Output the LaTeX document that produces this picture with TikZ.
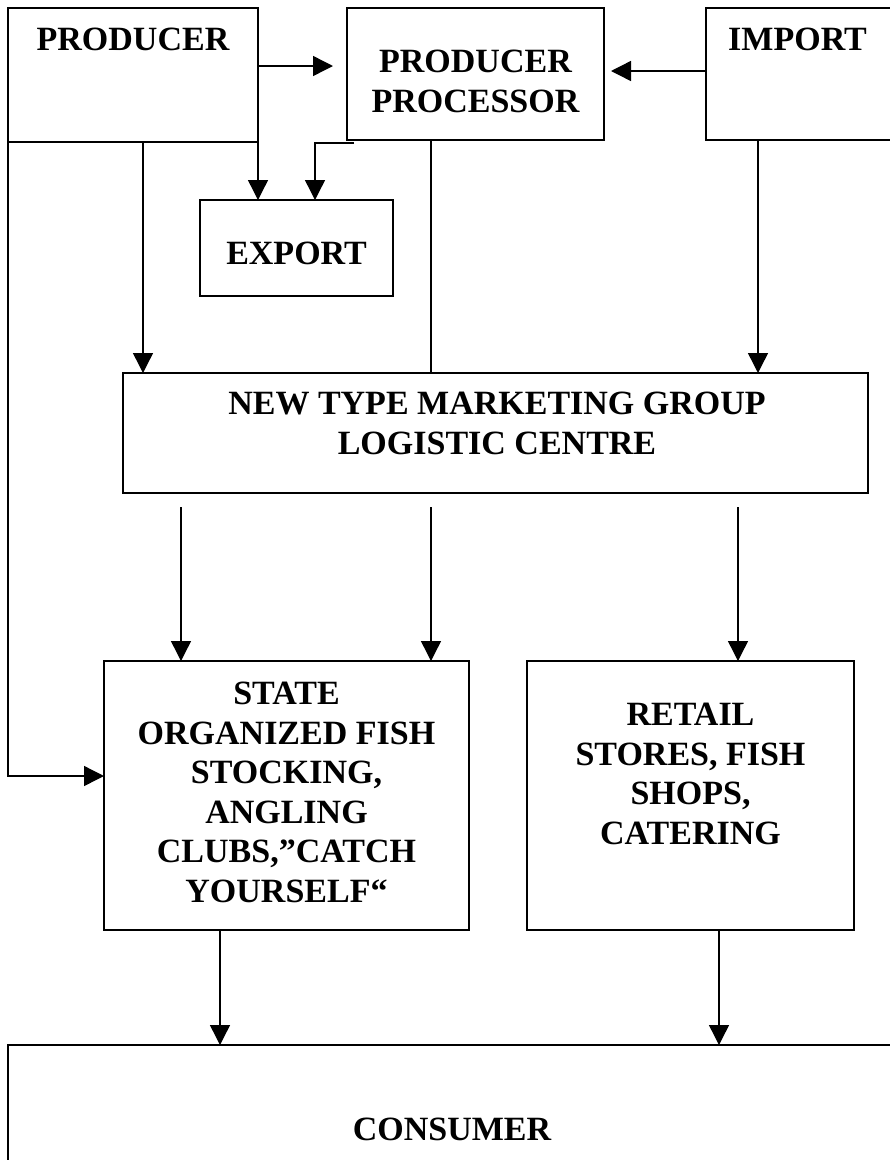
\documentclass[tikz,border=0pt]{standalone}
\usepackage{fontspec}
\setmainfont{Liberation Serif}
\usetikzlibrary{arrows.meta}

\begin{document}
\begin{tikzpicture}[x=1pt,y=-1pt,
  box/.style={draw,line width=1.8pt,inner sep=0pt,outer sep=0pt},
  lbl/.style={font=\bfseries\fontsize{34}{39.5}\selectfont,align=center,inner sep=0pt,anchor=north},
  arr/.style={line width=1.4pt,-{Triangle[length=20pt,width=20pt]}}]
 \useasboundingbox (0,0) rectangle (890,1160);
 \clip (0,0) rectangle (890,1160);
 % boxes
 \node[box,minimum width=250pt,minimum height=134pt] (producer) at (133,75) {};
 \node[box,minimum width=257pt,minimum height=132pt] (processor) at (475.5,74) {};
 \node[box,minimum width=254pt,minimum height=132pt] (import) at (833,74) {};
 \node[box,minimum width=193pt,minimum height=96pt] (export) at (296.5,248) {};
 \node[box,minimum width=745pt,minimum height=120pt] (newtype) at (495.5,433) {};
 \node[box,minimum width=365pt,minimum height=269pt] (state) at (286.5,795.5) {};
 \node[box,minimum width=327pt,minimum height=269pt] (retail) at (690.5,795.5) {};
 \node[box,minimum width=942pt,minimum height=185pt] (consumer) at (479,1137.5) {};
 % texts
 \node[lbl] (producerlbl) at (133,28) {PRODUCER};
 \node[lbl] (processorlbl) at (475.5,50) {PRODUCER\\PROCESSOR};
 \node[lbl] (importlbl) at (797.5,28) {IMPORT};
 \node[lbl] (exportlbl) at (296.5,242) {EXPORT};
 \node[lbl] (newtypelbl) at (497,392) {NEW TYPE MARKETING GROUP\\LOGISTIC CENTRE};
 \node[lbl] (statelbl) at (286.5,682) {STATE\\ORGANIZED FISH\\STOCKING,\\ANGLING\\CLUBS,”CATCH\\YOURSELF“};
 \node[lbl] (retaillbl) at (690.5,703) {RETAIL\\STORES, FISH\\SHOPS,\\CATERING};
 \node[lbl] (consumerlbl) at (452,1118) {CONSUMER};
 % top row
 \draw[arr,shorten >=14pt] ([yshift=9pt]producer.east) -- ([yshift=9pt]producer.east -| processor.west);
 \draw[arr,shorten >=7pt] ([yshift=3pt]import.west) -- ([yshift=3pt]import.west -| processor.east);
 % to export
 \draw[arr] (producer.south east) -- (producer.south east |- export.north);
 \draw[arr] ([xshift=7pt,yshift=-3pt]processor.south west) -| ([xshift=18.5pt]export.north);
 % to logistic centre
 \draw[arr] ([xshift=10pt]producer.south) -- ([xshift=10pt]producer.south |- newtype.north);
 \draw[line width=1.4pt] ([xshift=-44.5pt]processor.south) -- ([xshift=-44.5pt]processor.south |- newtype.north);
 \draw[arr] ([xshift=-75pt]import.south) -- ([xshift=-75pt]import.south |- newtype.north);
 % producer straight to state
 \draw[arr] (producer.south west) |- ([yshift=19.5pt]state.west);
 % logistic centre down
 \draw[arr,shorten <=14pt] ([xshift=-105.5pt]state.north |- newtype.south) -- ([xshift=-105.5pt]state.north);
 \draw[arr,shorten <=14pt] ([xshift=144.5pt]state.north |- newtype.south) -- ([xshift=144.5pt]state.north);
 \draw[arr,shorten <=14pt] ([xshift=47.5pt]retail.north |- newtype.south) -- ([xshift=47.5pt]retail.north);
 % to consumer
 \draw[arr] ([xshift=-66.5pt]state.south) -- ([xshift=-66.5pt]state.south |- consumer.north);
 \draw[arr] ([xshift=28.5pt]retail.south) -- ([xshift=28.5pt]retail.south |- consumer.north);
\end{tikzpicture}
\end{document}
